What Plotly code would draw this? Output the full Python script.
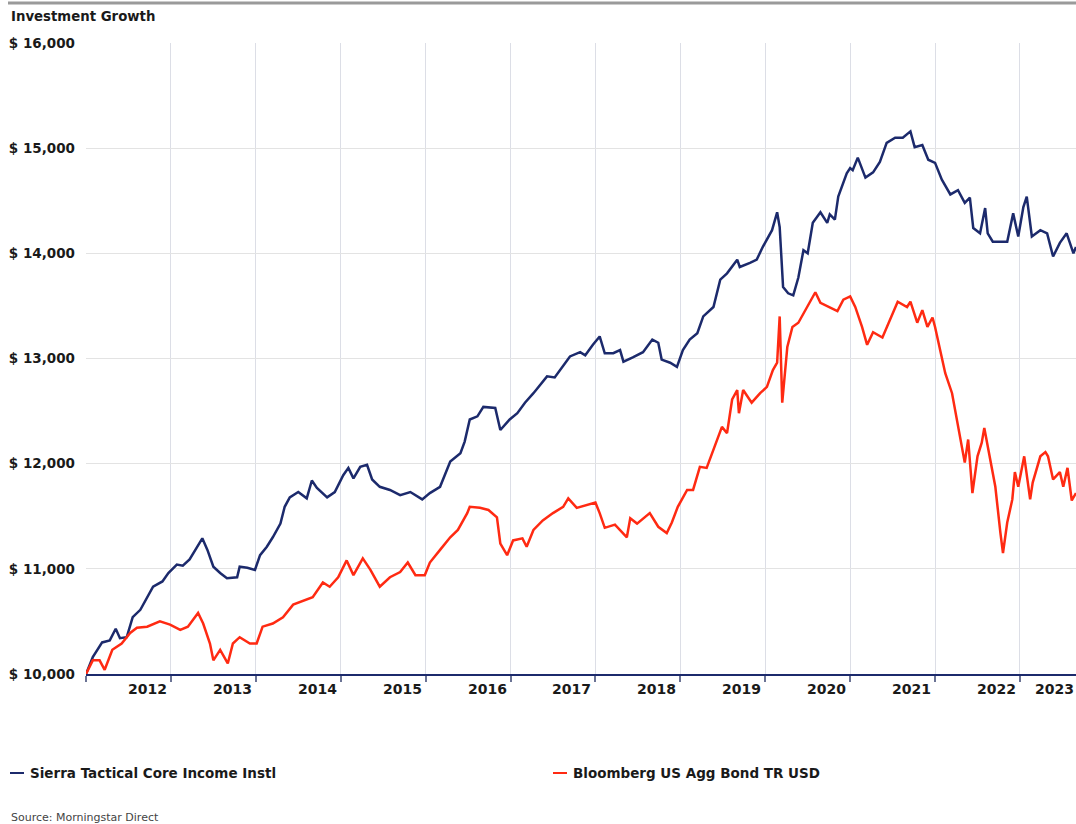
import plotly.graph_objects as go

# ---------------- data ----------------
blue_name = "Sierra Tactical Core Income Instl"
red_name = "Bloomberg US Agg Bond TR USD"

blue_t = [2012.00, 2012.08, 2012.19, 2012.28, 2012.35, 2012.40, 2012.48, 2012.55, 2012.64, 2012.72,
          2012.79, 2012.90, 2012.97, 2013.07, 2013.14, 2013.22, 2013.31, 2013.37, 2013.43, 2013.50,
          2013.58, 2013.66, 2013.78, 2013.81, 2013.90, 2013.99, 2014.05, 2014.13, 2014.20, 2014.29,
          2014.34, 2014.40, 2014.50, 2014.60, 2014.66, 2014.72, 2014.84, 2014.93, 2015.03, 2015.09,
          2015.15, 2015.23, 2015.31, 2015.37, 2015.46, 2015.58, 2015.70, 2015.82, 2015.96, 2016.05,
          2016.17, 2016.29, 2016.41, 2016.46, 2016.52, 2016.61, 2016.68, 2016.82, 2016.88, 2016.99,
          2017.08, 2017.17, 2017.27, 2017.43, 2017.52, 2017.61, 2017.70, 2017.82, 2017.88, 2017.97,
          2018.05, 2018.11, 2018.21, 2018.29, 2018.33, 2018.44, 2018.56, 2018.67, 2018.74, 2018.78,
          2018.88, 2018.96, 2019.03, 2019.11, 2019.20, 2019.27, 2019.39, 2019.47, 2019.55, 2019.67,
          2019.70, 2019.82, 2019.90, 2019.97, 2020.08, 2020.14, 2020.17, 2020.21, 2020.27, 2020.33,
          2020.39, 2020.45, 2020.50, 2020.56, 2020.65, 2020.73, 2020.76, 2020.82, 2020.86, 2020.96,
          2021.00, 2021.03, 2021.09, 2021.18, 2021.27, 2021.35, 2021.43, 2021.53, 2021.62, 2021.71,
          2021.76, 2021.85, 2021.92, 2022.00, 2022.08, 2022.18, 2022.27, 2022.35, 2022.41, 2022.45,
          2022.53, 2022.59, 2022.62, 2022.68, 2022.85, 2022.92, 2022.98, 2023.04, 2023.08, 2023.14,
          2023.24, 2023.32, 2023.39, 2023.47, 2023.55, 2023.63, 2023.66]
blue_v = [10000, 10160, 10300, 10320, 10430, 10340, 10350, 10540, 10610, 10730,
          10830, 10880, 10960, 11040, 11030, 11090, 11210, 11290, 11180, 11020,
          10960, 10910, 10920, 11020, 11010, 10990, 11130, 11210, 11300, 11430,
          11590, 11680, 11730, 11670, 11840, 11770, 11680, 11730, 11890, 11960,
          11860, 11970, 11990, 11850, 11780, 11750, 11700, 11730, 11660, 11720,
          11780, 12020, 12100, 12210, 12420, 12450, 12540, 12530, 12320, 12420,
          12480, 12580, 12670, 12830, 12820, 12920, 13020, 13060, 13030, 13130,
          13210, 13050, 13050, 13080, 12970, 13010, 13060, 13180, 13150, 12990,
          12960, 12920, 13080, 13180, 13240, 13400, 13490, 13750, 13810, 13940,
          13870, 13910, 13940, 14060, 14220, 14390, 14250, 13680, 13620, 13600,
          13770, 14030, 14000, 14290, 14390, 14290, 14370, 14320, 14540, 14760,
          14810, 14790, 14910, 14720, 14770, 14870, 15050, 15100, 15100, 15160,
          15010, 15030, 14890, 14860, 14700, 14560, 14600, 14480, 14530, 14240,
          14190, 14430, 14190, 14110, 14110, 14380, 14160, 14440, 14540, 14160,
          14220, 14190, 13970, 14100, 14190, 14000, 14060]

red_t = [2012.00, 2012.08, 2012.16, 2012.22, 2012.31, 2012.42, 2012.52, 2012.60, 2012.72, 2012.87,
         2012.99, 2013.11, 2013.20, 2013.32, 2013.38, 2013.46, 2013.50, 2013.58, 2013.67, 2013.73,
         2013.81, 2013.93, 2014.01, 2014.08, 2014.20, 2014.32, 2014.44, 2014.56, 2014.67, 2014.79,
         2014.87, 2014.97, 2015.07, 2015.15, 2015.26, 2015.35, 2015.46, 2015.58, 2015.70, 2015.79,
         2015.88, 2015.99, 2016.05, 2016.17, 2016.29, 2016.38, 2016.49, 2016.52, 2016.64, 2016.74,
         2016.84, 2016.88, 2016.96, 2017.03, 2017.14, 2017.19, 2017.27, 2017.38, 2017.50, 2017.62,
         2017.68, 2017.78, 2017.90, 2018.00, 2018.05, 2018.11, 2018.23, 2018.37, 2018.41, 2018.49,
         2018.64, 2018.74, 2018.84, 2018.90, 2018.97, 2019.08, 2019.15, 2019.23, 2019.31, 2019.41,
         2019.49, 2019.55, 2019.61, 2019.67, 2019.69, 2019.74, 2019.84, 2019.94, 2020.02, 2020.09,
         2020.14, 2020.17, 2020.20, 2020.26, 2020.32, 2020.39, 2020.49, 2020.59, 2020.65, 2020.76,
         2020.85, 2020.92, 2021.00, 2021.06, 2021.14, 2021.20, 2021.27, 2021.38, 2021.47, 2021.56,
         2021.67, 2021.71, 2021.79, 2021.85, 2021.91, 2021.97, 2022.00, 2022.06, 2022.12, 2022.20,
         2022.26, 2022.32, 2022.35, 2022.39, 2022.44, 2022.50, 2022.55, 2022.58, 2022.62, 2022.71,
         2022.77, 2022.80, 2022.85, 2022.91, 2022.94, 2022.98, 2023.05, 2023.12, 2023.15, 2023.24,
         2023.30, 2023.33, 2023.39, 2023.47, 2023.51, 2023.56, 2023.61, 2023.66]
red_v = [10000, 10130, 10130, 10040, 10230, 10290, 10390, 10440, 10450, 10500,
         10470, 10420, 10450, 10580, 10480, 10290, 10130, 10230, 10100, 10290,
         10350, 10290, 10290, 10450, 10480, 10540, 10660, 10700, 10730, 10870,
         10830, 10920, 11080, 10940, 11100, 10990, 10830, 10920, 10970, 11060,
         10940, 10940, 11060, 11180, 11300, 11370, 11530, 11590, 11580, 11560,
         11490, 11240, 11130, 11270, 11290, 11210, 11370, 11460, 11530, 11590,
         11670, 11580, 11610, 11630, 11530, 11390, 11420, 11300, 11480, 11430,
         11530, 11400, 11340, 11440, 11590, 11750, 11750, 11970, 11960, 12180,
         12350, 12290, 12610, 12700, 12480, 12700, 12580, 12670, 12730, 12890,
         12960, 13400, 12580, 13110, 13300, 13340, 13490, 13630, 13530, 13490,
         13450, 13560, 13590, 13490, 13300, 13130, 13250, 13200, 13370, 13540,
         13490, 13540, 13340, 13460, 13300, 13390, 13300, 13080, 12860, 12670,
         12420, 12160, 12010, 12230, 11720, 12070, 12200, 12340, 12160, 11780,
         11340, 11150, 11440, 11660, 11920, 11780, 12070, 11660, 11820, 12070,
         12110, 12070, 11850, 11920, 11780, 11960, 11650, 11720]

years = [2012, 2013, 2014, 2015, 2016, 2017, 2018, 2019, 2020, 2021, 2022, 2023]
year_labels = ["2012", "2013", "2014", "2015", "2016", "2017", "2018", "2019", "2020", "2021", "2022", "2023"]
y_ticks = [10000, 11000, 12000, 13000, 14000, 15000, 16000]
y_labels = ["$ 10,000", "$ 11,000", "$ 12,000", "$ 13,000", "$ 14,000", "$ 15,000", "$ 16,000"]
x_end = 2023.66

# ---------------- styling / layout ----------------
W, H = 1076, 824
ML, MR, MT, MB = 86, 0, 43, 150
PW, PH = W - ML - MR, H - MT - MB

def px(xpix):
    return (xpix - ML) / PW

def py(ypix):
    return (H - MB - ypix) / PH

BLUE = "#1c2a6c"
RED = "#ff2a12"
TXT = "#1a1a1a"
FONT = "DejaVu Sans"

fig = go.Figure()
fig.add_trace(go.Scatter(x=blue_t, y=blue_v, mode="lines", name=blue_name,
                         line=dict(color=BLUE, width=2.5)))
fig.add_trace(go.Scatter(x=red_t, y=red_v, mode="lines", name=red_name,
                         line=dict(color=RED, width=2.5)))

fig.update_xaxes(range=[years[0], x_end], tickvals=years, showticklabels=False,
                 showgrid=True, gridcolor="#dcdee6", gridwidth=1,
                 ticks="outside", ticklen=6, tickwidth=1.5, tickcolor="#6b7395",
                 showline=True, linecolor=BLUE, linewidth=2, zeroline=False)
fig.update_yaxes(range=[y_ticks[0], y_ticks[-1]], tickvals=y_ticks, ticktext=y_labels,
                 showgrid=True, gridcolor="#e3e3e3", gridwidth=1, zeroline=False,
                 tickfont=dict(family=FONT, size=13.5, color=TXT, weight="bold"),
                 ticklabelstandoff=10, showline=False)

annotations = []
for yr, lab in zip(years, year_labels):
    xpos = yr + 1 if yr + 1 <= x_end else x_end
    annotations.append(dict(x=xpos, y=py(689), xref="x", yref="paper", text=lab,
                            showarrow=False, xanchor="right", yanchor="middle",
                            xshift=-2 if yr + 1 <= x_end else 0,
                            font=dict(family=FONT, size=14, color=TXT, weight="bold")))
annotations.append(dict(x=px(9), y=py(16), xref="paper", yref="paper", text="Investment Growth",
                        showarrow=False, xanchor="left", yanchor="middle",
                        font=dict(family=FONT, size=13.3, color=TXT, weight="bold")))
annotations.append(dict(x=px(28), y=py(773), xref="paper", yref="paper", text=blue_name,
                        showarrow=False, xanchor="left", yanchor="middle",
                        font=dict(family=FONT, size=13.5, color=TXT, weight="bold")))
annotations.append(dict(x=px(571), y=py(773), xref="paper", yref="paper", text=red_name,
                        showarrow=False, xanchor="left", yanchor="middle",
                        font=dict(family=FONT, size=13.5, color=TXT, weight="bold")))
annotations.append(dict(x=px(9), y=py(817), xref="paper", yref="paper", text="Source: Morningstar Direct",
                        showarrow=False, xanchor="left", yanchor="middle",
                        font=dict(family=FONT, size=11, color="#444444")))

shapes = [
    dict(type="line", xref="paper", yref="paper", x0=px(8), x1=px(W), y0=py(3), y1=py(3),
         line=dict(color="#9a9a9a", width=3)),
    dict(type="line", xref="paper", yref="paper", x0=px(10), x1=px(24), y0=py(773), y1=py(773),
         line=dict(color=BLUE, width=2)),
    dict(type="line", xref="paper", yref="paper", x0=px(553), x1=px(567), y0=py(773), y1=py(773),
         line=dict(color=RED, width=2)),
]

fig.update_layout(width=W, height=H, autosize=False,
                  margin=dict(l=ML, r=MR, t=MT, b=MB, pad=0),
                  paper_bgcolor="white", plot_bgcolor="white",
                  showlegend=False, annotations=annotations, shapes=shapes,
                  font=dict(family=FONT, color=TXT))

fig.write_html("out.html", config={"displayModeBar": False},
               post_script="document.body.style.margin='0';")
